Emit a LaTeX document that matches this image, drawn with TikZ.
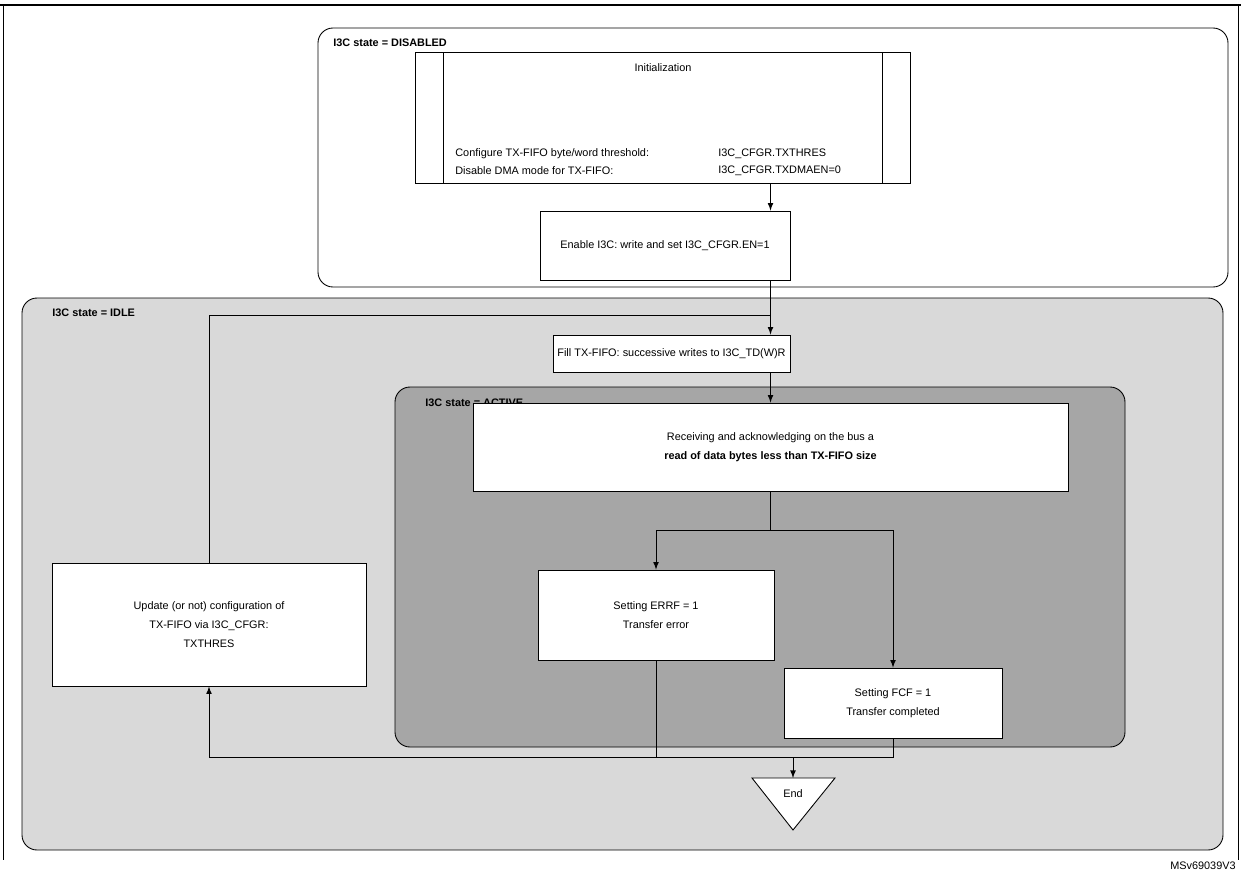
\documentclass[tikz,border=0pt]{standalone}
\usepackage{fontspec}
\setmainfont{Liberation Sans}
\usetikzlibrary{positioning}
\tikzset{every node/.style={inner sep=0pt,font=\fontsize{6.2}{11}\selectfont},
  box/.style={draw,fill=white,align=center,line width=0.5pt},
  state/.style={draw,rounded corners=0.3cm,line width=0.5pt},
  statelbl/.style={anchor=west,font=\fontsize{6.2}{11}\selectfont\bfseries},
  arr/.style={-latex,line width=0.5pt},
  ln/.style={line width=0.5pt}}
\begin{document}
\begin{tikzpicture}[x=0.02cm,y=-0.02cm]
\useasboundingbox (0,0) rectangle (1241,873);
% frame
\draw[line width=1.6pt] (0,5) -- (1241,5);
\draw[ln] (3,5) -- (3,860);
\draw[ln] (1238,5) -- (1238,860);
\node[anchor=south east] (ref) at (1236,870) {MSv69039V3};

% state regions
\draw[state] (318,28) rectangle (1228,287);
\node[statelbl] (sdis) at (333,43) {I3C state = DISABLED};
\draw[state,fill=black!15] (22,298) rectangle (1223,850);
\node[statelbl] (sidle) at (52,313) {I3C state = IDLE};
\draw[state,fill=black!35] (395,387) rectangle (1125,747);
\node[statelbl] (sact) at (425,403) {I3C state = ACTIVE};

% boxes
\node[box,minimum width=9.9cm,minimum height=2.62cm] (init) at (662.5,117.5) {};
\draw[ln] (443,52) -- (443,183);
\draw[ln] (882,52) -- (882,183);
\node (inittxt) at (663,68) {Initialization};
\node[anchor=west] (cfg1) at (455,154) {Configure TX-FIFO byte/word threshold:};
\node[anchor=west] (cfg2) at (455,171) {Disable DMA mode for TX-FIFO:};
\node[anchor=west] (reg1) at (718,154) {I3C\_CFGR.TXTHRES};
\node[anchor=west] (reg2) at (718,171) {I3C\_CFGR.TXDMAEN=0};
\node[box,minimum width=5cm,minimum height=1.38cm] (enable) at (665,245.5) {Enable I3C: write and set I3C\_CFGR.EN=1};
\node[box,minimum width=4.74cm,minimum height=0.74cm] (fill) at (671.5,353.5) {Fill TX-FIFO: successive writes to I3C\_TD(W)R};
\node[box,minimum width=11.9cm,minimum height=1.76cm] (recv) at (770.5,447) {Receiving and acknowledging on the bus a\\\textbf{read of data bytes less than TX-FIFO size}};
\node[box,minimum width=4.72cm,minimum height=1.8cm] (errf) at (656,615) {Setting ERRF = 1\\Transfer error};
\node[box,minimum width=4.36cm,minimum height=1.4cm] (fcf) at (893,703) {Setting FCF = 1\\Transfer completed};
\node[box,minimum width=6.28cm,minimum height=2.46cm] (update) at (209,624.5) {Update (or not) configuration of\\TX-FIFO via I3C\_CFGR:\\TXTHRES};
\draw[ln,fill=white] (752,778) -- (835,778) -- (793,830) -- cycle;
\node (end) at (793,794) {End};
\coordinate (endtop) at (793,778);
\coordinate (split) at (770.5,530);
\coordinate (join) at (793,757);

% connectors
\draw[arr] (init.south -| recv.north) -- (enable.north -| recv.north);
\draw[arr] (enable.south -| recv.north) -- (fill.north -| recv.north);
\draw[ln] (update.north) |- (recv.north |- 0,315);
\draw[arr] (fill.south -| recv.north) -- (recv.north);
\draw[ln] (recv.south) -- (split);
\draw[arr] (split) -| (errf.north);
\draw[arr] (split) -| (fcf.north);
\draw[ln] (errf.south) -- (errf.south |- join);
\draw[ln] (fcf.south) |- (update.south |- join);
\draw[arr] (update.south |- join) -- (update.south);
\draw[arr] (join) -- (endtop);
\end{tikzpicture}
\end{document}
